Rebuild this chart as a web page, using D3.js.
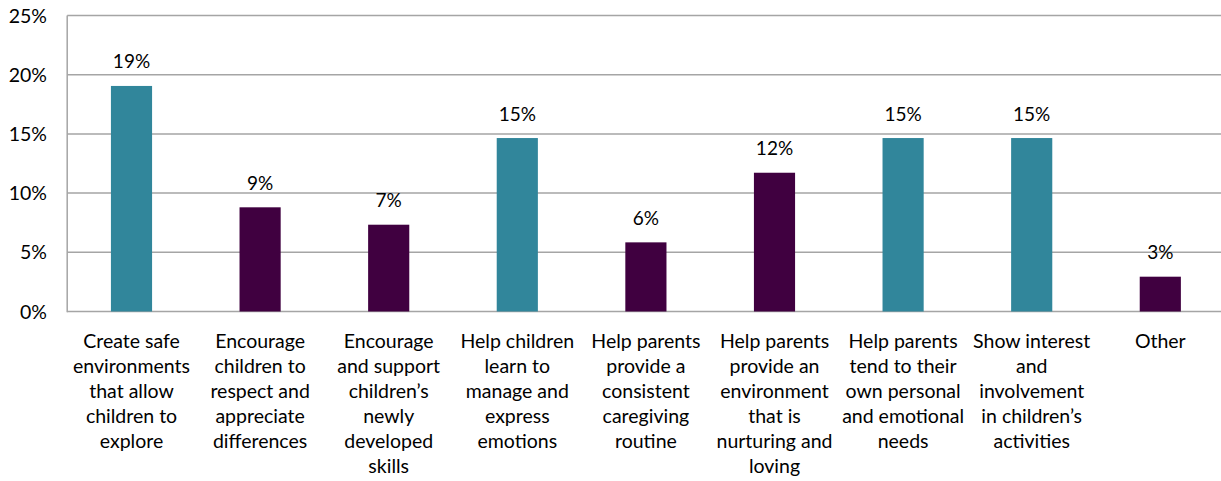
<!DOCTYPE html>
<html>
<head>
<meta charset="utf-8">
<script src="https://cdn.jsdelivr.net/npm/d3@7"></script>
<style>
  html, body { margin: 0; padding: 0; background: #ffffff; }
  svg { display: block; }
  text { font-family: "Lato", "Liberation Sans", sans-serif; fill: #000000; }
</style>
</head>
<body>
<svg id="chart" width="1221" height="481"></svg>
<script>
// Share of responses by category (fractions)
const categories = [
  "Create safe environments that allow children to explore",
  "Encourage children to respect and appreciate differences",
  "Encourage and support children’s newly developed skills",
  "Help children learn to manage and express emotions",
  "Help parents provide a consistent caregiving routine",
  "Help parents provide an environment that is nurturing and loving",
  "Help parents tend to their own personal and emotional needs",
  "Show interest and involvement in children’s activities",
  "Other"
];
// Wrapped lines of each category label, as printed under the axis
const categoryLines = [
  ["Create safe", "environments", "that allow", "children to", "explore"],
  ["Encourage", "children to", "respect and", "appreciate", "differences"],
  ["Encourage", "and support", "children’s", "newly", "developed", "skills"],
  ["Help children", "learn to", "manage and", "express", "emotions"],
  ["Help parents", "provide a", "consistent", "caregiving", "routine"],
  ["Help parents", "provide an", "environment", "that is", "nurturing and", "loving"],
  ["Help parents", "tend to their", "own personal", "and emotional", "needs"],
  ["Show interest", "and", "involvement", "in children’s", "activities"],
  ["Other"]
];
const values = [0.1905, 0.088, 0.0733, 0.1465, 0.0584, 0.1172, 0.1465, 0.1465, 0.0294];
// Which bars are drawn in the highlight (teal) colour
const highlighted = [true, false, false, true, false, false, true, true, false];
const yTicks = [0, 0.05, 0.10, 0.15, 0.20, 0.25];

const svg = d3.select("#chart");
const teal = "#31869b";
const plum = "#400040";
const gridColor = "#a5a5a5";

const x = d3.scaleBand()
  .domain(categories)
  .range([67.2, 1224.6])
  .paddingInner(0)
  .paddingOuter(0);

const y = d3.scaleLinear()
  .domain([0, 0.25])
  .range([311.5, 15.5]);

const barWidth = x.bandwidth() * 0.32;

// Horizontal gridlines
svg.append("g")
  .selectAll("line")
  .data(yTicks)
  .join("line")
  .attr("x1", 67.2)
  .attr("x2", 1224.6)
  .attr("y1", d => y(d))
  .attr("y2", d => y(d))
  .attr("stroke", gridColor)
  .attr("stroke-width", 1.5);

// Vertical axis line
svg.append("line")
  .attr("x1", 67.2).attr("x2", 67.2)
  .attr("y1", y(0.25)).attr("y2", y(0) + 0.75)
  .attr("stroke", gridColor)
  .attr("stroke-width", 1.5);

// Y tick labels
svg.append("g")
  .selectAll("text")
  .data(yTicks)
  .join("text")
  .attr("x", 47)
  .attr("y", d => y(d))
  .attr("dy", "0.36em")
  .attr("text-anchor", "end")
  .attr("font-size", 19.5)
  .text(d => d3.format(".0%")(d));

// Bars
svg.append("g")
  .selectAll("rect")
  .data(values)
  .join("rect")
  .attr("x", (d, i) => x(categories[i]) + (x.bandwidth() - barWidth) / 2)
  .attr("width", barWidth)
  .attr("y", d => y(d))
  .attr("height", d => y(0) - y(d))
  .attr("fill", (d, i) => highlighted[i] ? teal : plum);

// Value labels above bars
svg.append("g")
  .selectAll("text")
  .data(values)
  .join("text")
  .attr("x", (d, i) => x(categories[i]) + x.bandwidth() / 2)
  .attr("y", d => y(d) - 17.5)
  .attr("text-anchor", "middle")
  .attr("font-size", 19)
  .text(d => d3.format(".0%")(d));

// Category labels, wrapped into lines
const catG = svg.append("g")
  .selectAll("text")
  .data(categories)
  .join("text")
  .attr("text-anchor", "middle")
  .attr("font-size", 19.5)
  .attr("transform", d => `translate(${x(d) + x.bandwidth() / 2},348)`);

catG.selectAll("tspan")
  .data((d, i) => categoryLines[i])
  .join("tspan")
  .attr("x", 0)
  .attr("y", (d, j) => j * 25)
  .text(d => d);
</script>
</body>
</html>
